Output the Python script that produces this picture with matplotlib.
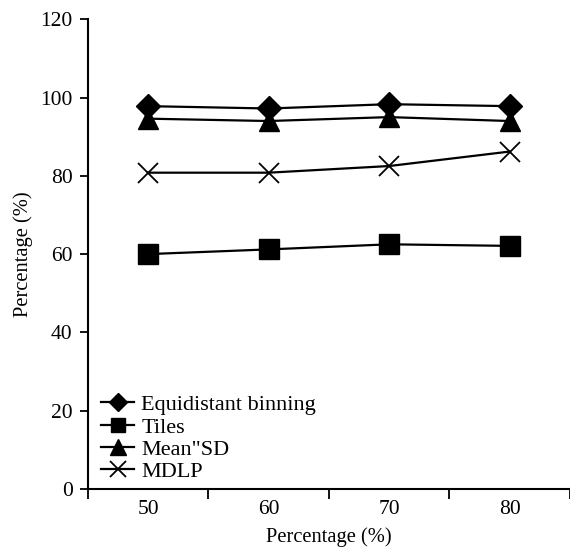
import matplotlib
matplotlib.use("Agg")
import matplotlib.pyplot as plt

categories = ["50", "60", "70", "80"]
equidistant = [97.8, 97.2, 98.3, 97.8]
tiles = [60.0, 61.2, 62.5, 62.1]
mean_sd = [94.6, 94.0, 95.0, 94.0]
mdlp = [80.8, 80.8, 82.5, 86.2]
y_ticks = [0, 20, 40, 60, 80, 100, 120]

plt.rcParams["font.family"] = ["Liberation Serif", "DejaVu Serif"]
plt.rcParams["font.size"] = 15

fig = plt.figure(figsize=(5.7, 5.5), dpi=100)
ax = fig.add_axes([0.154, 0.111, 0.846, 0.854])

x = list(range(1, len(categories) + 1))
kw = dict(color="black", linewidth=1.6, markerfacecolor="black", markeredgecolor="black")
ax.plot(x, equidistant, marker="D", markersize=12, label="Equidistant binning", **kw)
ax.plot(x, tiles, marker="s", markersize=14, label="Tiles", **kw)
ax.plot(x, mean_sd, marker="^", markersize=15, label="Mean\"SD", **kw)
ax.plot(x, mdlp, marker="x", markersize=15, markeredgewidth=1.3, label="MDLP", **kw)

ax.set_xlim(0.5, len(categories) + 0.5)
ax.set_ylim(0, 120)
ax.set_yticks(y_ticks)
ax.set_xticks(x)
ax.set_xticklabels(categories)
ax.tick_params(axis="x", which="major", length=0, pad=8, labelsize=15.5)
ax.set_xticks([i + 0.5 for i in range(len(categories) + 1)], minor=True)
ax.tick_params(axis="x", which="minor", length=7, width=1.3, direction="out")
ax.tick_params(axis="y", length=6, width=1.3, direction="out", pad=5, labelsize=15.5)

for side in ("top", "right"):
    ax.spines[side].set_visible(False)
for side in ("left", "bottom"):
    ax.spines[side].set_linewidth(1.5)

ax.set_xlabel("Percentage (%)", labelpad=6, fontsize=14.8)
ax.set_ylabel("Percentage (%)", labelpad=5, fontsize=14.8)

ax.legend(loc="lower left", bbox_to_anchor=(0.0, -0.014), frameon=False,
          markerscale=0.75, handlelength=1.5, handletextpad=0.3,
          labelspacing=0.08, borderaxespad=0.2, fontsize=16)

fig.savefig("out.png", dpi=100)
